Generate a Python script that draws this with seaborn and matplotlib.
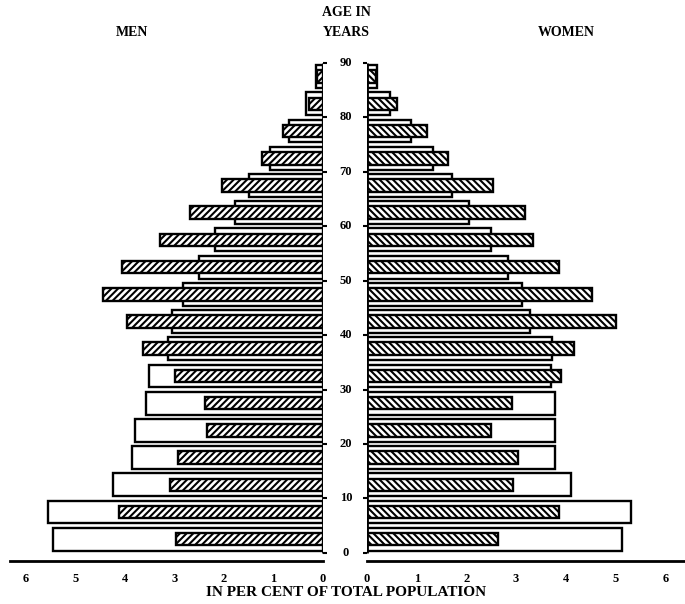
import numpy as np
import pandas as pd
import matplotlib
matplotlib.use('Agg')
import matplotlib.pyplot as plt
import seaborn as sns

# -------------------------------------------------------
# DATA (per cent of total population, 5-year age groups)
# -------------------------------------------------------
age_start = [0, 5, 10, 15, 20, 25, 30, 35, 40, 45, 50, 55, 60, 65, 70, 75, 80, 85]

men_white = [5.46, 5.55, 4.24, 3.86, 3.80, 3.58, 3.51, 3.14, 3.06, 2.83,
             2.50, 2.18, 1.78, 1.49, 1.07, 0.68, 0.34, 0.15]
men_hatched = [2.96, 4.13, 3.10, 2.92, 2.35, 2.38, 3.00, 3.64, 3.95, 4.44,
               4.07, 3.29, 2.69, 2.05, 1.24, 0.81, 0.28, 0.12]

women_white = [5.14, 5.31, 4.10, 3.79, 3.79, 3.78, 3.70, 3.72, 3.28, 3.11,
               2.83, 2.49, 2.06, 1.72, 1.32, 0.89, 0.46, 0.20]
women_hatched = [2.64, 3.87, 2.94, 3.03, 2.49, 2.91, 3.90, 4.17, 5.00, 4.52,
                 3.86, 3.35, 3.17, 2.54, 1.62, 1.20, 0.60, 0.18]

age_ticks = [0, 10, 20, 30, 40, 50, 60, 70, 80, 90]
pct_ticks = [0, 1, 2, 3, 4, 5, 6]

df = pd.DataFrame({
    'age': np.array(age_start) + 2.5,
    'men_white': men_white,
    'men_hatched': men_hatched,
    'women_white': women_white,
    'women_hatched': women_hatched,
})

# -------------------------------------------------------
# FIGURE
# -------------------------------------------------------
sns.set_style('white')
plt.rcParams['font.family'] = ['Liberation Serif', 'DejaVu Serif']
plt.rcParams['hatch.linewidth'] = 1.5
for key in ['text.color', 'axes.edgecolor', 'xtick.color', 'ytick.color',
            'axes.labelcolor', 'hatch.color']:
    plt.rcParams[key] = 'black'

W, H = 685, 604
fig = plt.figure(figsize=(W / 100, H / 100), dpi=100)

bottom = (H - 561) / H
height = (561 - 63) / H
ax_l = fig.add_axes([10 / W, bottom, (323 - 10) / W, height])
ax_r = fig.add_axes([367 / W, bottom, (W - 367) / W, height])

panels = [
    (ax_l, 'men_white', 'men_hatched', '/////', (313 / 49.5, 0)),
    (ax_r, 'women_white', 'women_hatched', '\\\\\\\\\\', (0, 318 / 49.7)),
]

for ax, col_white, col_hatch, hatch, xlim in panels:
    sns.barplot(data=df, x=col_white, y='age', orient='y', native_scale=True,
                width=0.84, color='white', edgecolor='black', linewidth=1.7,
                saturation=1, ax=ax)
    sns.barplot(data=df, x=col_hatch, y='age', orient='y', native_scale=True,
                width=0.46, color='white', edgecolor='black', linewidth=1.7,
                saturation=1, hatch=hatch, ax=ax)

    ax.set_xlim(*xlim)
    ax.set_ylim(-1.5, 90)
    ax.set_xlabel('')
    ax.set_ylabel('')

    for side in ['top', 'left', 'right']:
        ax.spines[side].set_visible(False)
    ax.spines['bottom'].set_linewidth(2)

    ax.vlines(0, 0, 90, color='black', linewidth=2, zorder=5)

    ax.set_xticks(pct_ticks)
    ax.set_xticklabels([str(t) for t in pct_ticks], fontsize=9,
                       fontweight='bold')
    ax.tick_params(axis='x', direction='out', length=3, width=1.5, pad=6)

    ax.set_yticks(age_ticks)
    ax.set_yticklabels([])
    ax.tick_params(axis='y', direction='out', length=3, width=1.5)

ax_l.yaxis.tick_right()
ax_r.yaxis.tick_left()

# age labels in the gap between the two halves
for a in age_ticks:
    ax_l.text((346 - 10) / 313, a, str(a), transform=ax_l.get_yaxis_transform(),
              ha='center', va='center', fontsize=9, fontweight='bold')

# -------------------------------------------------------
# TEXT
# -------------------------------------------------------
fig.text(346 / W, 1 - 12 / H, 'AGE IN', ha='center', va='center',
         fontsize=10, fontweight='bold')
fig.text(346 / W, 1 - 33 / H, 'YEARS', ha='center', va='center',
         fontsize=10, fontweight='bold')
fig.text(132 / W, 1 - 33 / H, 'MEN', ha='center', va='center',
         fontsize=10, fontweight='bold')
fig.text(566 / W, 1 - 33 / H, 'WOMEN', ha='center', va='center',
         fontsize=10, fontweight='bold')
fig.text(346 / W, 1 - 593 / H, 'IN PER CENT OF TOTAL POPULATION',
         ha='center', va='center', fontsize=11, fontweight='bold')

plt.savefig('out.png', dpi=100)
